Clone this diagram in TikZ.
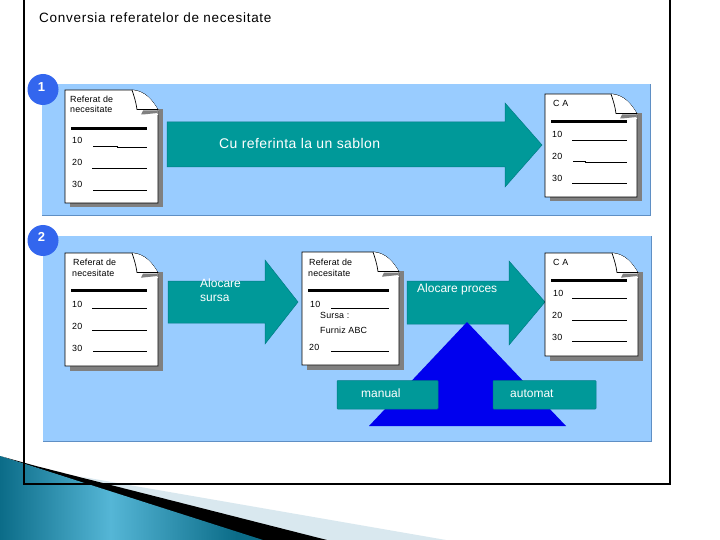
\documentclass[tikz,border=0pt]{standalone}
\usepackage{fontspec}
\setmainfont{Liberation Sans}
\definecolor{panelblue}{HTML}{99CCFF}
\definecolor{paneledge}{HTML}{5F8FC4}
\definecolor{tealfill}{HTML}{009999}
\definecolor{tealedge}{HTML}{007C86}
\definecolor{badgeblue}{HTML}{3366EE}
\definecolor{triblue}{HTML}{0000EE}
\definecolor{shadowgray}{HTML}{808080}
\definecolor{wedgelight}{HTML}{D9E8EF}
\definecolor{wedgedark}{HTML}{0B6C88}
\definecolor{wedgemid}{HTML}{55B6D6}
\pgfdeclarehorizontalshading{wedgeshade}{100bp}{color(0bp)=(wedgedark);color(25bp)=(wedgedark);color(46bp)=(wedgemid);color(70bp)=(wedgedark);color(100bp)=(wedgedark)}
\tikzset{
  x=1pt,y=-1pt,
  panel/.style={fill=panelblue},
  paperbody/.style={draw=black,fill=white,line width=0.9pt,line join=miter},
  papertext/.style={inner sep=0pt,anchor=west,yshift=-0.8pt,text height=6.2pt,text depth=1.8pt,font=\fontsize{8.9}{9}\selectfont\addfontfeature{LetterSpace=2}},
  rulethin/.style={draw=black,line width=0.8pt},
  rulethick/.style={draw=black,line width=2.4pt},
  flowarrow/.style={fill=tealfill,draw=tealedge,line width=0.5pt},
  tealbox/.style={fill=tealfill,draw=tealedge,line width=0.5pt,rounded corners=0.8pt},
  whitelabel/.style={inner sep=0pt,text=white,yshift=-0.6pt,text height=8.6pt,text depth=2.5pt,font=\fontsize{12}{14}\selectfont},
  biglabel/.style={inner sep=0pt,text=white,yshift=-1pt,text height=10pt,text depth=3pt,font=\fontsize{14}{16}\selectfont\addfontfeature{LetterSpace=3}},
  badge/.style={circle,fill=badgeblue,minimum size=31pt,inner sep=0pt},
  badgenum/.style={inner sep=0pt,text=white,font=\fontsize{13}{14}\selectfont\bfseries},
}
% x0 y0 width height
\newcommand{\paperpage}[4]{%
  \fill[shadowgray] (#1+5,#2+5) rectangle (#1+#3+5,#2+#4+4.5);
  \fill[panelblue] (#1+#3-26,#2-1) rectangle (#1+#3+6,#2+19);
  \fill[shadowgray] (#1+#3-17,#2+20) -- (#1+#3-3,#2+18.5) -- (#1+#3+4.5,#2+22) -- (#1+#3+4.5,#2+30) -- (#1+#3-17,#2+30) -- cycle;
  \draw[paperbody] (#1,#2) -- (#1+#3-26,#2) .. controls (#1+#3-13,#2+1) and (#1+#3-6,#2+10) .. (#1+#3,#2+20) -- (#1+#3,#2+#4) -- (#1,#2+#4) -- cycle;
  \fill[white] (#1+#3-26,#2) .. controls (#1+#3-13,#2+1) and (#1+#3-6,#2+10) .. (#1+#3,#2+20) -- (#1+#3,#2+24) -- (#1+#3-17,#2+24) -- (#1+#3-17,#2+25) -- (#1+#3,#2+25) -- (#1+#3+0.3,#2+20) -- cycle;
  \fill[shadowgray] (#1+#3-17,#2+24.5) -- (#1+#3-15,#2+20.5) -- (#1+#3-0.5,#2+20.5) -- (#1+#3-0.5,#2+23) -- (#1+#3-15,#2+24.5) -- cycle;
  \fill[white] (#1+#3-26,#2+0.5) .. controls (#1+#3-13,#2+1.5) and (#1+#3-6,#2+10) .. (#1+#3-0.5,#2+19.5) -- (#1+#3-21,#2+19.5) .. controls (#1+#3-22,#2+12) and (#1+#3-24,#2+6) .. (#1+#3-26,#2+0.5) -- cycle;
  \draw[black,line width=0.7pt] (#1+#3-26,#2) .. controls (#1+#3-24,#2+6) and (#1+#3-22,#2+12) .. (#1+#3-21,#2+19.5) -- (#1+#3,#2+19.5);
}
\begin{document}
\begin{tikzpicture}
\useasboundingbox (0,0) rectangle (720,540);
\fill[white] (0,0) rectangle (720,540);
% bottom decoration
\fill[wedgelight] (80,476.5) -- (446,540) -- (300,540) -- cycle;
\fill[black] (36,466) -- (327,540) -- (258,540) -- (0,456) -- cycle;
\shade[shading=wedgeshade] (0,456) -- (263,540) -- (0,540) -- cycle;
% frame
\draw[black,line width=2pt] (23.5,-2) -- (23.5,483.7) -- (670,483.7) -- (670,-2);
% panels
\fill[panel] (42,84) rectangle (650,215);
\draw[paneledge,line width=0.8pt] (42,215.3) -- (650.3,215.3) -- (650.3,84);
\fill[panel] (43,236) rectangle (651,441);
\draw[paneledge,line width=0.8pt] (43,441.3) -- (651.3,441.3) -- (651.3,236);
% badges
\node[badge] (badgeA) at (43,89.5) {};
\node[badgenum] (numA) at (41.5,87) {1};
\node[badge] (badgeB) at (43,240.5) {};
\node[badgenum] (numB) at (41.5,237) {2};
% title
\node[inner sep=0pt,anchor=west,yshift=-1pt,text height=10pt,text depth=3pt,font=\fontsize{13.5}{15}\selectfont\addfontfeature{LetterSpace=5.3}] (title) at (39,18) {Conversia referatelor de necesitate};
% arrows
\draw[flowarrow] (167,122) -- (505,122) -- (505,103) -- (542,145) -- (505,187) -- (505,167) -- (167,167) -- cycle;
\draw[flowarrow] (168,281) -- (265,281) -- (265,260) -- (298,302) -- (265,344) -- (265,323) -- (168,323) -- cycle;
\draw[flowarrow] (407,281) -- (509,281) -- (509,261) -- (545,302) -- (509,345) -- (509,324) -- (407,324) -- cycle;
\node[biglabel,anchor=west] (lblCu) at (219,144) {Cu referinta la un sablon};
\node[whitelabel,anchor=west] (lblAloc) at (200,284) {Alocare};
\node[whitelabel,anchor=west] (lblSursa) at (200,298) {sursa};
\node[whitelabel,anchor=west] (lblProc) at (417,289) {Alocare proces};
% triangle and boxes
\fill[triblue] (467,322) -- (566,426) -- (369,426) -- cycle;
\draw[tealbox] (337,380.5) rectangle (438,409);
\draw[tealbox] (493,380.5) rectangle (596,409);
\node[whitelabel,anchor=west] (lblManual) at (361,394) {manual};
\node[whitelabel,anchor=west] (lblAutomat) at (510,394) {automat};
% document 1
\paperpage{65}{90}{93}{113}
\node[papertext] (t1a) at (70,100) {Referat de};
\node[papertext] (t1b) at (70,110) {necesitate};
\draw[rulethick] (71,128.5) -- (147,128.5);
\node[papertext] (t1c) at (72,141) {10};
\node[papertext] (t1d) at (72,163) {20};
\node[papertext] (t1e) at (72,185) {30};
\draw[rulethin] (93,146.5) -- (117,146.5) -- (117,147.3) -- (147,147.3);
\draw[rulethin] (92,168.3) -- (147,168.3);
\draw[rulethin] (93,190.3) -- (147,190.3);
% CA 1
\paperpage{545}{94}{92}{103}
\node[papertext] (t2a) at (553,104) {C A};
\draw[rulethick] (551,121.5) -- (627,121.5);
\node[papertext] (t2c) at (552,135) {10};
\node[papertext] (t2d) at (552,157) {20};
\node[papertext] (t2e) at (552,179) {30};
\draw[rulethin] (572,140.5) -- (627,140.5);
\draw[rulethin] (573,161.5) -- (585,161.5) -- (585,162.3) -- (627,162.3);
\draw[rulethin] (572,183.5) -- (627,183.5);
% document 2
\paperpage{65}{253}{93}{113}
\node[papertext] (t3a) at (73,262) {Referat de};
\node[papertext] (t3b) at (72,273) {necesitate};
\draw[rulethick] (71,290.5) -- (147,290.5);
\node[papertext] (t3c) at (72,304) {10};
\node[papertext] (t3d) at (72,326) {20};
\node[papertext] (t3e) at (72,348) {30};
\draw[rulethin] (92,308.5) -- (147,308.5);
\draw[rulethin] (92,330.5) -- (147,330.5);
\draw[rulethin] (93,351.5) -- (147,351.5);
% document 3
\paperpage{302}{252}{97}{113}
\node[papertext] (t4a) at (309,262) {Referat de};
\node[papertext] (t4b) at (308,273) {necesitate};
\draw[rulethick] (308,290.5) -- (389,290.5);
\node[papertext] (t4c) at (310,304) {10};
\node[papertext] (t4d) at (309,347) {20};
\node[papertext] (t4e) at (320,315) {Sursa :};
\node[papertext] (t4f) at (320,330) {Furniz ABC};
\draw[rulethin] (331,308.3) -- (389,308.3);
\draw[rulethin] (331,351.7) -- (389,351.7);
% CA 2
\paperpage{545}{253}{93}{103}
\node[papertext] (t5a) at (553,262) {C A};
\draw[rulethick] (551,280.5) -- (627,280.5);
\node[papertext] (t5c) at (553,293) {10};
\node[papertext] (t5d) at (552,315) {20};
\node[papertext] (t5e) at (552,337) {30};
\draw[rulethin] (572,298.3) -- (627,298.3);
\draw[rulethin] (572,320.3) -- (627,320.3);
\draw[rulethin] (572,341.3) -- (627,341.3);
\end{tikzpicture}
\end{document}
